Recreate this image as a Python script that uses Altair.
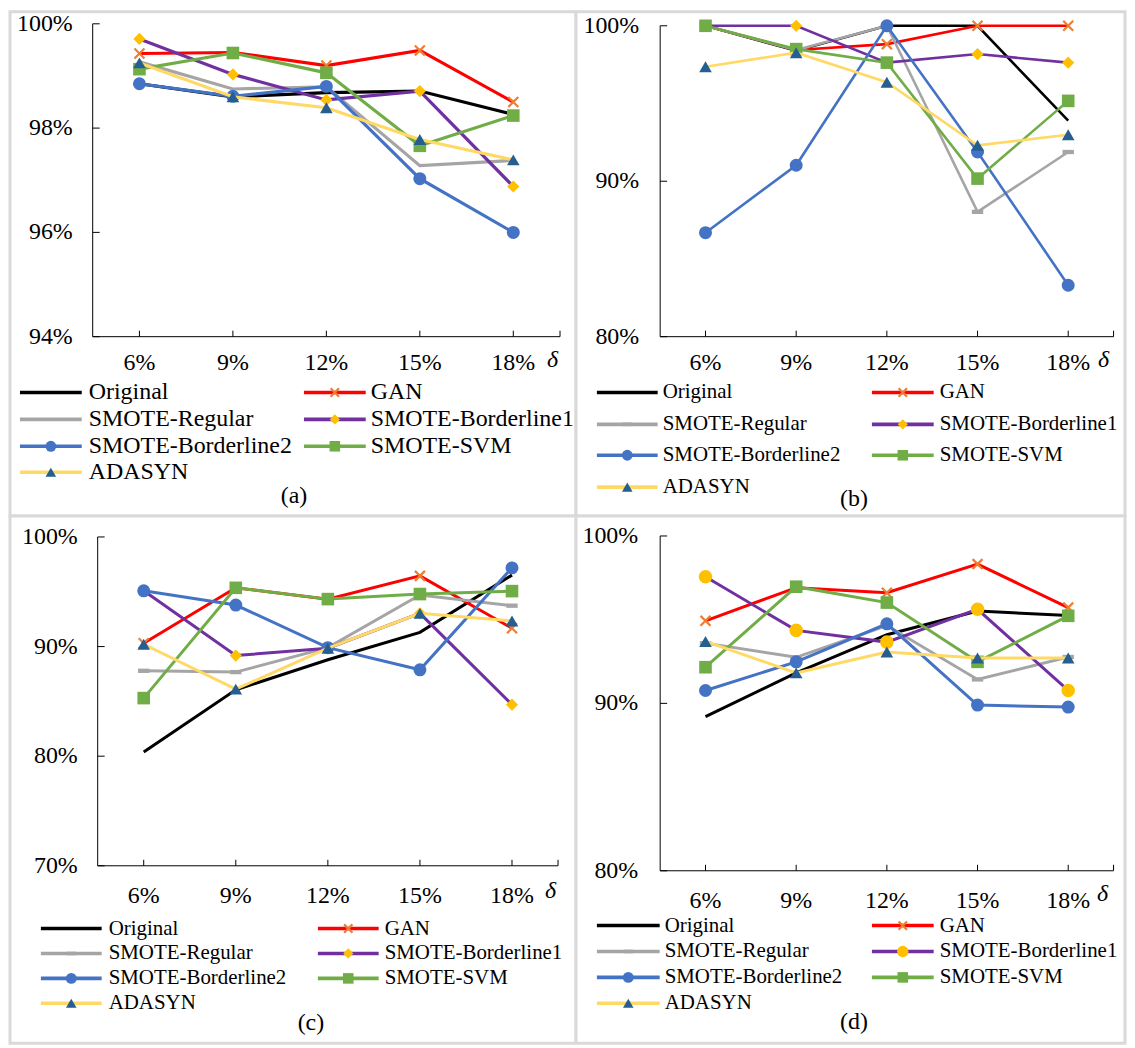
import altair as alt
import pandas as pd

FONT = "Liberation Serif"

# ---------------- data ----------------
deltas = ["6%", "9%", "12%", "15%", "18%"]
series_names = ["Original", "GAN", "SMOTE-Regular", "SMOTE-Borderline1",
                "SMOTE-Borderline2", "SMOTE-SVM", "ADASYN"]

# panel (a)
a_original = [98.85, 98.60, 98.68, 98.71, 98.26]
a_gan = [99.43, 99.45, 99.20, 99.49, 98.50]
a_regular = [99.27, 98.75, 98.79, 97.28, 97.38]
a_border1 = [99.71, 99.03, 98.54, 98.71, 96.88]
a_border2 = [98.85, 98.61, 98.80, 97.03, 96.00]
a_svm = [99.13, 99.44, 99.06, 97.66, 98.24]
a_adasyn = [99.25, 98.60, 98.39, 97.78, 97.39]

# panel (b)
b_original = [100.0, 98.40, 100.0, 100.0, 93.90]
b_gan = [100.0, 98.44, 98.82, 100.0, 100.0]
b_regular = [100.0, 98.44, 100.0, 88.03, 91.88]
b_border1 = [100.0, 100.0, 97.63, 98.18, 97.63]
b_border2 = [86.69, 91.03, 100.0, 91.88, 83.31]
b_svm = [100.0, 98.50, 97.63, 90.17, 95.17]
b_adasyn = [97.37, 98.27, 96.37, 92.31, 92.99]

# panel (c)
c_original = [80.39, 86.06, 88.80, 91.30, 96.52]
c_gan = [90.30, 95.36, 94.33, 96.45, 91.67]
c_regular = [87.79, 87.67, 89.90, 94.70, 93.73]
c_border1 = [95.09, 89.18, 89.85, 93.03, 84.70]
c_border2 = [95.09, 93.79, 89.90, 87.88, 97.18]
c_svm = [85.30, 95.36, 94.33, 94.79, 95.06]
c_adasyn = [90.21, 86.12, 89.85, 93.03, 92.33]

# panel (d)
d_original = [89.21, 91.82, 94.10, 95.52, 95.25]
d_gan = [94.93, 96.91, 96.61, 98.32, 95.72]
d_regular = [93.60, 92.75, 94.65, 91.43, 92.77]
d_border1 = [97.56, 94.36, 93.66, 95.62, 90.77]
d_border2 = [90.77, 92.48, 94.75, 89.90, 89.78]
d_svm = [92.16, 96.97, 96.02, 92.48, 95.23]
d_adasyn = [93.70, 91.82, 93.07, 92.71, 92.71]

a_yticks = [94, 96, 98, 100]
b_yticks = [80, 90, 100]
c_yticks = [70, 80, 90, 100]
d_yticks = [80, 90, 100]

panel_data = {
    "a": [a_original, a_gan, a_regular, a_border1, a_border2, a_svm, a_adasyn],
    "b": [b_original, b_gan, b_regular, b_border1, b_border2, b_svm, b_adasyn],
    "c": [c_original, c_gan, c_regular, c_border1, c_border2, c_svm, c_adasyn],
    "d": [d_original, d_gan, d_regular, d_border1, d_border2, d_svm, d_adasyn],
}
panel_ticks = {"a": a_yticks, "b": b_yticks, "c": c_yticks, "d": d_yticks}

# ---------------- styles ----------------
line_color = {
    "Original": "#000000", "GAN": "#FF0000", "SMOTE-Regular": "#A5A5A5",
    "SMOTE-Borderline1": "#7030A0", "SMOTE-Borderline2": "#4472C4",
    "SMOTE-SVM": "#70AD47", "ADASYN": "#FFD966",
}
XPATH = "M-1,-1L1,1M-1,1L1,-1"
DASH = "M-1,-0.38H1V0.38H-1Z"


def marker(panel, s):
    if s == "Original":
        return None
    if s == "GAN":
        return dict(shape=XPATH, filled=False, stroke="#ED7D31", strokeWidth=2.2, size=100)
    if s == "SMOTE-Regular":
        if panel == "a":
            return None
        return dict(shape=DASH, filled=True, color="#A5A5A5", size=130)
    if s == "SMOTE-Borderline1":
        if panel == "d":
            return dict(shape="circle", filled=True, color="#FFC000", size=185)
        return dict(shape="diamond", filled=True, color="#FFC000", size=150)
    if s == "SMOTE-Borderline2":
        return dict(shape="circle", filled=True, color="#4472C4", size=170)
    if s == "SMOTE-SVM":
        return dict(shape="square", filled=True, color="#70AD47", size=160)
    if s == "ADASYN":
        return dict(shape="triangle-up", filled=True, color="#255E91", size=160)


# ---------------- layout (pixels inside each panel cell) ----------------
layout = {
    "a": dict(w=568, h=506, x0=83, x1=552, yt=12, yb=326, dom=[94, 100], ypad=20, xpad=26,
              dpos=(539, 349), cols=[(10, 72, 79), (295, 357, 362)], rows=[382, 409, 436, 462],
              lfs=24, cap=(285, 486), sw=3.2),
    "b": dict(w=551, h=506, x0=84.5, x1=539.5, yt=14, yb=326, dom=[80, 100], ypad=21, xpad=26,
              dpos=(524, 349), cols=[(21, 82, 87), (297, 359, 365)], rows=[382, 414, 445, 477],
              lfs=21, cap=(279, 489), sw=2.6),
    "c": dict(w=568, h=529, x0=88, x1=550, yt=21, yb=351, dom=[70, 100], ypad=20, xpad=30,
              dpos=(537, 376), cols=[(31, 92, 99), (309, 370, 376)], rows=[414, 439, 464, 489],
              lfs=21, cap=(302, 509), sw=3.0),
    "d": dict(w=551, h=529, x0=84.5, x1=539.5, yt=20, yb=356, dom=[80, 100], ypad=22, xpad=30,
              dpos=(523, 379), cols=[(21, 84, 89), (297, 359, 365)], rows=[411, 437, 463, 489],
              lfs=21, cap=(279, 508), sw=3.0),
}

one_row = pd.DataFrame({"k": [0]})


def build_panel(key):
    L = layout[key]
    rows = []
    for s, vals in zip(series_names, panel_data[key]):
        for i, (d, v) in enumerate(zip(deltas, vals)):
            rows.append({"series": s, "delta": d, "idx": i, "value": v})
    df = pd.DataFrame(rows)

    xs = alt.Scale(type="point", domain=deltas, range=[L["x0"], L["x1"]], padding=0.5)
    ys = alt.Scale(domain=L["dom"], range=[L["yb"], L["yt"]], nice=False, zero=False)

    def X():
        return alt.X("delta:N", scale=xs, axis=None)

    def Y():
        return alt.Y("value:Q", scale=ys, axis=None)

    layers = []

    # axis lines
    layers.append(
        alt.Chart(one_row).mark_rule(color="black", strokeWidth=1)
        .encode(x=alt.value(L["x0"]), x2=alt.value(L["x1"]), y=alt.value(L["yb"]))
    )
    layers.append(
        alt.Chart(one_row).mark_rule(color="black", strokeWidth=1)
        .encode(x=alt.value(L["x0"]), y=alt.value(L["yt"]), y2=alt.value(L["yb"]))
    )

    # inward tick marks
    tick_df = pd.DataFrame({"delta": deltas})
    layers.append(
        alt.Chart(tick_df).mark_rule(color="black", strokeWidth=1)
        .encode(x=X(), y=alt.value(L["yb"] - 6), y2=alt.value(L["yb"]))
    )
    layers.append(
        alt.Chart(one_row).mark_rule(color="black", strokeWidth=1)
        .encode(x=alt.value(L["x1"]), y=alt.value(L["yb"] - 6), y2=alt.value(L["yb"]))
    )
    ytick_df = pd.DataFrame({"value": panel_ticks[key],
                             "label": [f"{v}%" for v in panel_ticks[key]]})
    layers.append(
        alt.Chart(ytick_df).mark_rule(color="black", strokeWidth=1)
        .encode(y=Y(), x=alt.value(L["x0"]), x2=alt.value(L["x0"] + 7))
    )

    # tick labels
    layers.append(
        alt.Chart(tick_df).mark_text(font=FONT, fontSize=24, color="black",
                                     align="center", baseline="middle")
        .encode(x=X(), y=alt.value(L["yb"] + L["xpad"]), text="delta:N")
    )
    layers.append(
        alt.Chart(ytick_df).mark_text(font=FONT, fontSize=24, color="black",
                                      align="right", baseline="middle")
        .encode(y=Y(), x=alt.value(L["x0"] - L["ypad"]), text="label:N")
    )

    # series
    for s in series_names:
        sub = df[df.series == s]
        layers.append(
            alt.Chart(sub).mark_line(color=line_color[s], strokeWidth=L["sw"])
            .encode(x=X(), y=Y(), order=alt.Order("idx:Q"))
        )
        m = marker(key, s)
        if m is not None:
            layers.append(
                alt.Chart(sub).mark_point(opacity=1, **m).encode(x=X(), y=Y())
            )

    # delta symbol
    layers.append(
        alt.Chart(one_row).mark_text(text="δ", font=FONT, fontSize=24, fontStyle="italic",
                                     align="left", baseline="middle", color="black")
        .encode(x=alt.value(L["dpos"][0]), y=alt.value(L["dpos"][1]))
    )

    # legend
    for i, s in enumerate(series_names):
        c1, c2, tx = L["cols"][i % 2]
        ly = L["rows"][i // 2]
        layers.append(
            alt.Chart(one_row).mark_rule(color=line_color[s], strokeWidth=3.6)
            .encode(x=alt.value(c1), x2=alt.value(c2), y=alt.value(ly))
        )
        m = marker(key, s)
        if m is not None:
            m2 = dict(m)
            m2["size"] = m["size"] * 0.7
            layers.append(
                alt.Chart(one_row).mark_point(opacity=1, **m2)
                .encode(x=alt.value((c1 + c2) / 2), y=alt.value(ly))
            )
        layers.append(
            alt.Chart(one_row).mark_text(text=s, font=FONT, fontSize=L["lfs"], align="left",
                                         baseline="middle", color="black")
            .encode(x=alt.value(tx), y=alt.value(ly))
        )

    # caption
    layers.append(
        alt.Chart(one_row).mark_text(text=f"({key})", font=FONT, fontSize=24, align="center",
                                     baseline="middle", color="black")
        .encode(x=alt.value(L["cap"][0]), y=alt.value(L["cap"][1]))
    )

    return alt.layer(*layers).properties(width=L["w"], height=L["h"])


chart = (
    alt.concat(build_panel("a"), build_panel("b"), build_panel("c"), build_panel("d"),
               columns=2, spacing=0, bounds="flush")
    .properties(padding=0, background="white")
    .configure_view(stroke="#d9d9d9", strokeWidth=3, fill="white")
)

chart.save("out.html", embed_options={"renderer": "svg", "actions": False})
